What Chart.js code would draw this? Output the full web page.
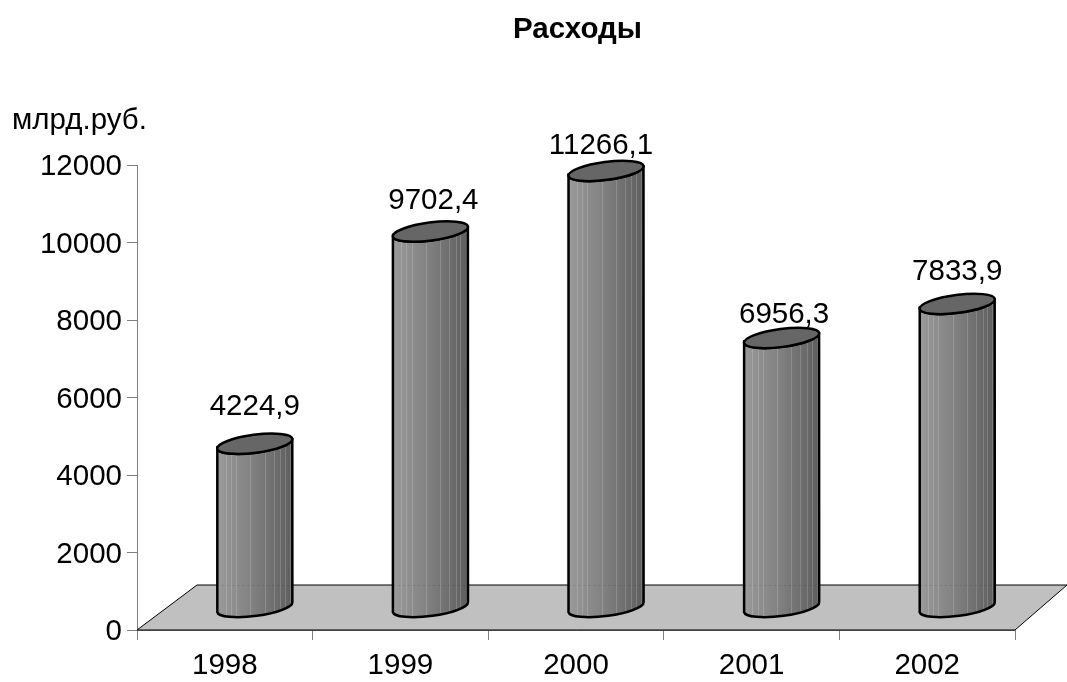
<!DOCTYPE html>
<html><head><meta charset="utf-8">
<style>html,body{margin:0;padding:0;background:#fff}canvas{display:block}</style>
<script src="https://cdn.jsdelivr.net/npm/chart.js@4"></script></head>
<body><div style="width:1067px;height:682px"><canvas id="c" width="1067" height="682"></canvas></div>
<script>
const categories = ['1998','1999','2000','2001','2002'];
const expenses = [4224.9, 9702.4, 11266.1, 6956.3, 7833.9];
const expenseLabels = ['4224,9','9702,4','11266,1','6956,3','7833,9'];
const titleText = 'Расходы';
const unitText = 'млрд.руб.';

const FONT = '"Liberation Sans", Arial, sans-serif';
const DEPTH_X = 30, DEPTH_Y = 22.5;
const labelShift = [[0,-37],[3,-31],[-5,-25.5],[2.5,-23.5],[0,-32.5]];
const stripes = [.11,.18,.25,.44,.63,.75,.84,.90,.97];

const cylinders = {
  id:'cylinders',
  beforeDatasetsDraw(chart){
    const {ctx,chartArea:a} = chart;
    ctx.save();
    ctx.beginPath();
    ctx.moveTo(a.left,a.bottom);
    ctx.lineTo(a.left+DEPTH_X*2,a.bottom-DEPTH_Y*2);
    ctx.lineTo(a.right+DEPTH_X*2-8,a.bottom-DEPTH_Y*2);
    ctx.lineTo(a.right,a.bottom);
    ctx.closePath();
    ctx.fillStyle='#c0c0c0';ctx.fill();
    ctx.strokeStyle='#000';ctx.lineWidth=1;ctx.stroke();
    ctx.restore();
  },
  afterDatasetsDraw(chart){
    const {ctx,chartArea:a} = chart;
    const meta = chart.getDatasetMeta(0);
    const rot = -7.5*Math.PI/180;
    const backY = Math.round(a.bottom-DEPTH_Y*2)+.5;
    meta.data.forEach((bar,i)=>{
      const cx = bar.x+DEPTH_X, top = bar.y-DEPTH_Y, bot = bar.base-DEPTH_Y;
      const rx = bar.width/2, ry = 9;
      const l = cx-rx, r = cx+rx;
      const dy = 3.2;
      const body = new Path2D();
      body.moveTo(l,top+dy);
      body.lineTo(l,bot+dy);
      body.ellipse(cx,bot,rx+.4,ry,rot,Math.PI-0.02,0.02,true);
      body.lineTo(r,top-dy);
      body.ellipse(cx,top,rx+.4,ry,rot,0,Math.PI,false);
      body.closePath();
      const g = ctx.createLinearGradient(l,0,r,0);
      g.addColorStop(0,'#9a9a9a');g.addColorStop(.45,'#828282');g.addColorStop(1,'#5e5e5e');
      ctx.save();
      ctx.fillStyle=g;ctx.fill(body);
      ctx.save();ctx.clip(body);
      ctx.strokeStyle='rgba(255,255,255,.17)';ctx.lineWidth=1;
      stripes.forEach(s=>{
        const x=Math.round(l+s*bar.width)+.5;
        ctx.beginPath();ctx.moveTo(x,top-12);ctx.lineTo(x,bot+12);ctx.stroke();
      });
      ctx.strokeStyle='rgba(0,0,0,.12)';ctx.setLineDash([2,3]);
      ctx.beginPath();ctx.moveTo(l,backY);ctx.lineTo(r,backY);ctx.stroke();
      ctx.setLineDash([]);
      ctx.restore();
      ctx.strokeStyle='#000';ctx.lineWidth=2.5;ctx.lineJoin='round';ctx.stroke(body);
      ctx.beginPath();ctx.ellipse(cx,top,rx+.4,ry,rot,0,Math.PI*2);
      ctx.fillStyle='#666666';ctx.fill();ctx.stroke();
      ctx.fillStyle='#000';ctx.font='29.5px '+FONT;ctx.textAlign='center';ctx.textBaseline='middle';
      ctx.fillText(expenseLabels[i],cx+labelShift[i][0],top+labelShift[i][1]);
      ctx.restore();
    });
    ctx.save();
    ctx.fillStyle='#000';ctx.textBaseline='middle';
    ctx.font='bold 29.5px '+FONT;ctx.textAlign='center';
    ctx.fillText(titleText,577.5,30);
    ctx.font='29.5px '+FONT;ctx.textAlign='left';
    ctx.fillText(unitText,12,121);
    ctx.restore();
  }
};

new Chart(document.getElementById('c'),{
  type:'bar',
  data:{labels:categories,datasets:[{label:titleText,data:expenses,backgroundColor:'rgba(0,0,0,0)',borderWidth:0,
    categoryPercentage:1,barPercentage:.427}]},
  options:{
    responsive:false,animation:false,
    layout:{padding:{top:165,right:52,left:0,bottom:0}},
    plugins:{legend:{display:false},tooltip:{enabled:false},title:{display:false}},
    scales:{
      x:{afterFit(s){s.height=52},
        grid:{drawOnChartArea:false,drawTicks:true,tickLength:10,color:'#808080',lineWidth:1},
        border:{color:'#808080',width:1},
        ticks:{color:'#000',font:{family:FONT,size:29.5},padding:8,maxRotation:0}},
      y:{min:0,max:12000,afterFit(s){s.width=137},
        grid:{drawOnChartArea:false,drawTicks:true,tickLength:10,color:'#808080',lineWidth:1},
        border:{color:'#808080',width:1},
        ticks:{stepSize:2000,color:'#000',font:{family:FONT,size:29.5},padding:5,labelOffset:2,callback:v=>String(v)}}
    }
  },
  plugins:[cylinders]
});
</script></body></html>
